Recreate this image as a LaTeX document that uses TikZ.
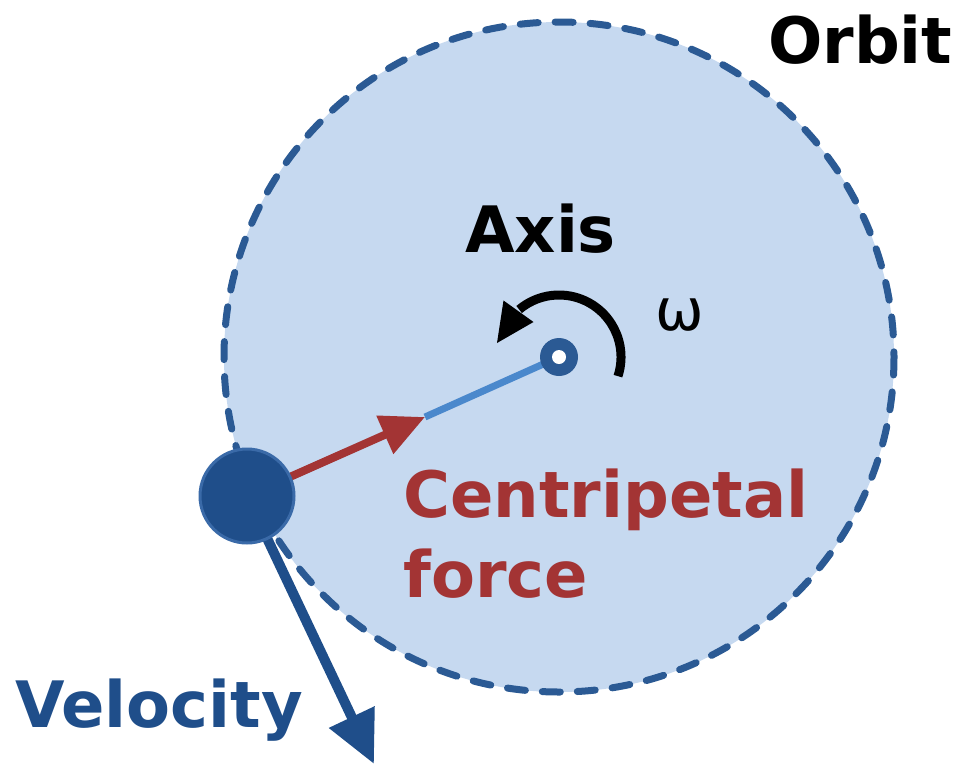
\documentclass[tikz,border=0pt]{standalone}
\usepackage{fontspec}
\setmainfont{DejaVu Sans}
\usetikzlibrary{arrows.meta}
\definecolor{orbfill}{HTML}{C6D9F0}
\definecolor{orbdash}{HTML}{2B5A94}
\definecolor{balldark}{HTML}{1F4E8A}
\definecolor{ballrim}{HTML}{3A6AA8}
\definecolor{forcered}{HTML}{A33434}
\definecolor{radblue}{HTML}{4A88CC}
\tikzset{
  lbl/.style={font=\fontsize{64}{64}\selectfont\bfseries, inner sep=0pt, anchor=base west},
}
\begin{document}
\begin{tikzpicture}[x=1pt,y=-1pt]
\useasboundingbox (0,0) rectangle (972,764);
% orbit
\fill[orbfill] (559,357) circle[radius=335];
\draw[orbdash, line width=7pt, dash pattern=on 18pt off 17pt, line cap=round] (559,357) circle[radius=335];
% coordinates
\coordinate (ftip) at (425,417);
\coordinate (vtip) at (374,764);
% axis and ball nodes
\node[circle, minimum size=96pt, inner sep=0pt] (ball) at (247,496) {};
\node[circle, minimum size=38pt, inner sep=0pt] (axis) at (559,357) {};
% radius line
\draw[radblue, line width=7pt] (ftip) -- (axis.center);
% centripetal force arrow
\draw[forcered, line width=8pt, -{Triangle[length=44pt,width=40pt]}] (ball.center) -- (ftip);
% velocity arrow
\draw[balldark, line width=10pt, -{Triangle[length=52pt,width=48pt]}] (ball.center) -- (vtip);
% ball
\fill[balldark, draw=ballrim, line width=3pt] (ball.center) circle[radius=47];
% axis dot
\fill[orbdash] (axis.center) circle[radius=19];
\fill[white] (axis.center) circle[radius=7];
% rotation arrow
\draw[black, line width=9pt] ([shift={(18:62)}]axis.center) arc[start angle=18, end angle=-130, radius=62];
\fill[black] (497,343) -- (533.5,322) -- (503.5,300.5) -- cycle;
% labels
\node[lbl] (orbit) at (768,63) {Orbit};
\node[lbl] (axislbl) at (465,252) {Axis};
\node[font=\fontsize{58}{58}\selectfont, inner sep=0pt, anchor=base west] (omega) at (655,330) {ω};
\node[lbl, text=forcered] (cent) at (403,517) {Centripetal};
\node[lbl, text=forcered] (force) at (403,597) {force};
\node[lbl, text=balldark] (vel) at (15,727) {Velocity};
\end{tikzpicture}
\end{document}
